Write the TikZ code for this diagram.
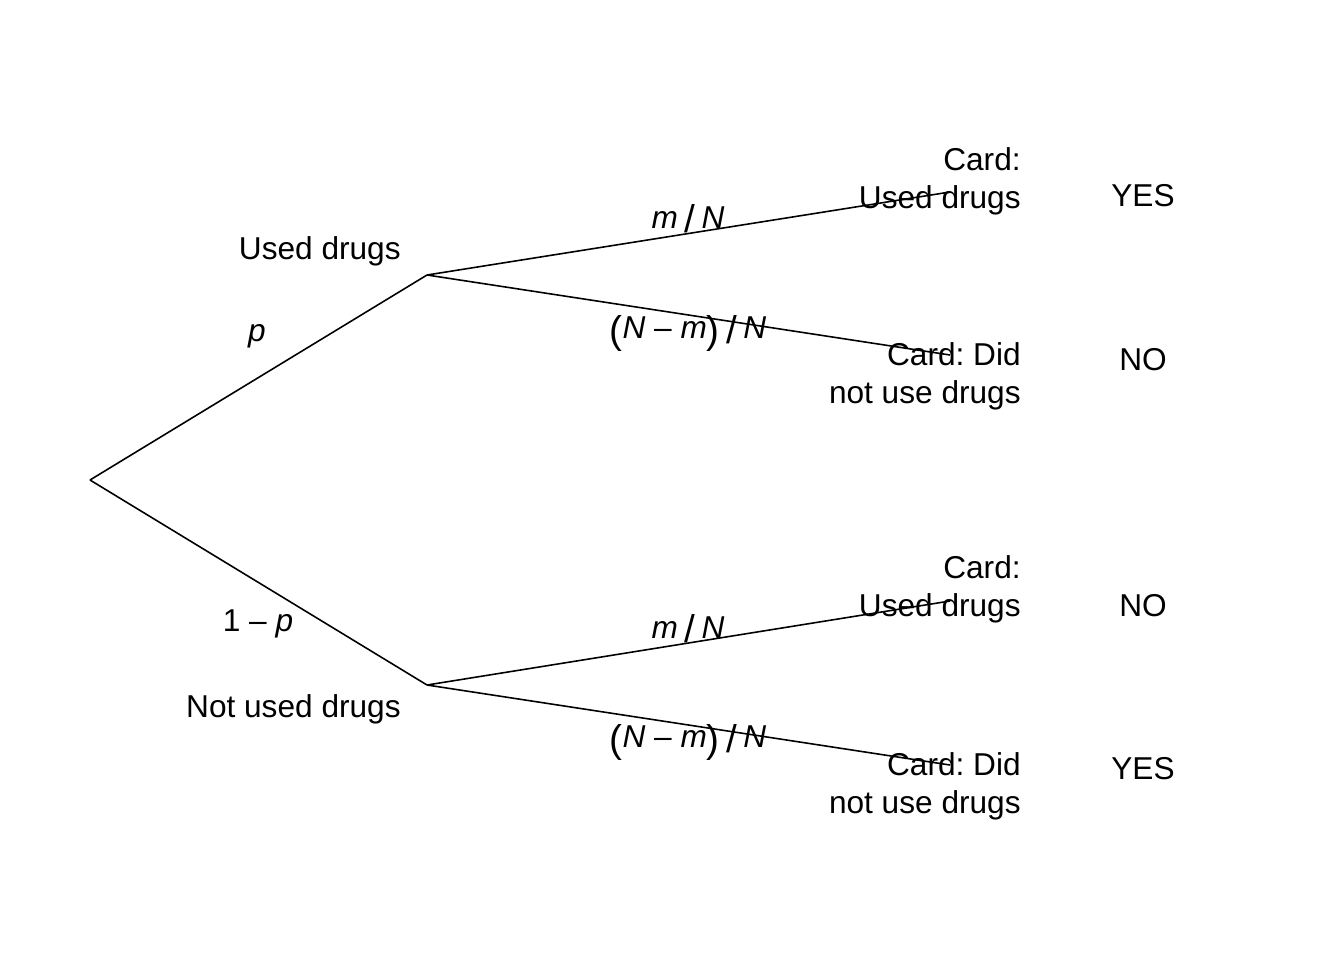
\documentclass[tikz,border=0pt]{standalone}
\usepackage{fontspec}
\setmainfont{Liberation Sans}
\usetikzlibrary{positioning,calc}
\frenchspacing

\newcommand{\slsh}{\raisebox{-2.5pt}{\fontsize{22}{22}\selectfont\,/\,}}
\newcommand{\lpar}{\raisebox{-2.5pt}{\fontsize{22}{22}\selectfont(}}
\newcommand{\rpar}{\raisebox{-2.5pt}{\fontsize{22}{22}\selectfont)}}

\begin{document}
\begin{tikzpicture}[
  x=0.02cm, y=-0.02cm,
  branch/.style={draw=black, line width=0.9pt},
  lbl/.style={font=\fontsize{18}{21.5}\selectfont, inner sep=0pt},
  leaf/.style={lbl, align=right, anchor=east},
  prob/.style={lbl, anchor=center},
]
\useasboundingbox (0,0) rectangle (1344,960);
% branch points
\coordinate (root) at (90,480);
\coordinate (used) at (427,275);
\coordinate (notused) at (427,685);
\coordinate (uu) at (950,192);
\coordinate (un) at (950,355);
\coordinate (nu) at (950,601);
\coordinate (nn) at (950,765);
% tree
\draw[branch] (root) -- (used);
\draw[branch] (root) -- (notused);
\foreach \a/\b in {used/uu,used/un,notused/nu,notused/nn} \draw[branch] (\a) -- (\b);
% first stage labels
\node[lbl, anchor=east] (usedlbl) at (401,251) {Used drugs};
\node[lbl, anchor=east] (notusedlbl) at (401,709) {Not used drugs};
\node[prob] (pp) at (257,336) {\textit{p}};
\node[prob] (qp) at (258,624) {1 – \textit{p}};
% second stage labels
\node[prob] (mu) at (688,219) {\textit{m}\slsh\textit{N}};
\node[prob] (ru) at (688,333) {\lpar\textit{N} – \textit{m}\rpar\slsh\textit{N}};
\node[prob] (mn) at (688,629) {\textit{m}\slsh\textit{N}};
\node[prob] (rn) at (688,742) {\lpar\textit{N} – \textit{m}\rpar\slsh\textit{N}};
% cards
\node[leaf] (cuu) at (1021,181) {Card:\\Used drugs};
\node[leaf] (cun) at (1021,376) {Card: Did\\not use drugs};
\node[leaf] (cnu) at (1021,589) {Card:\\Used drugs};
\node[leaf] (cnn) at (1021,786) {Card: Did\\not use drugs};
% answers
\node[prob] (auu) at (1143,196) {YES};
\node[prob] (aun) at (1143,360) {NO};
\node[prob] (anu) at (1143,606) {NO};
\node[prob] (ann) at (1143,769) {YES};
\end{tikzpicture}
\end{document}
